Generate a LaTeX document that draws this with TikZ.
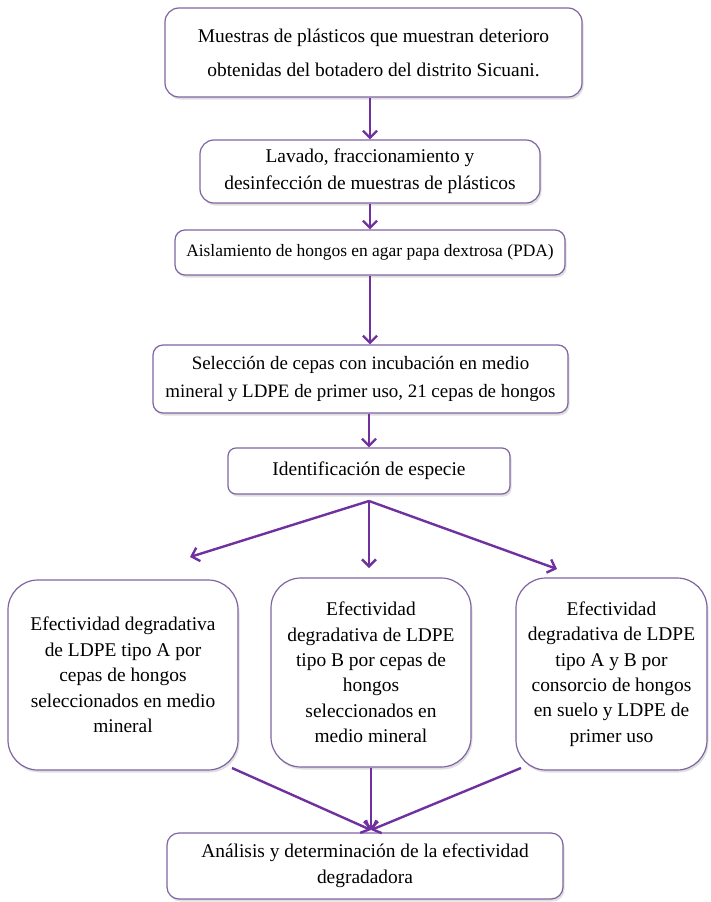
\documentclass[tikz,border=0pt]{standalone}
\usepackage{fontspec}
\setmainfont{Liberation Serif}
\usetikzlibrary{shadows,arrows.meta}
\definecolor{boxline}{HTML}{8064A2}
\definecolor{flowline}{HTML}{7030A0}
\tikzset{
  stepbox/.style={draw=boxline, line width=1.2bp, fill=white, rounded corners=14bp,
    align=center, inner sep=0pt, font=\fontsize{19.5}{34}\selectfont,
    drop shadow={opacity=0.25, shadow xshift=1.5bp, shadow yshift=-2.5bp}},
  bigbox/.style={stepbox, rounded corners=30bp, font=\fontsize{19.5}{25.5}\selectfont},
  flow/.style={draw=flowline, line width=2.4bp,
    -{Straight Barb[length=7bp, width=14bp, line width=2.4bp]}}
}
\begin{document}
\begin{tikzpicture}[x=1bp, y=-1bp]
\useasboundingbox (0,0) rectangle (711,902);
% steps
\node[stepbox, minimum width=417bp, minimum height=89bp] (muestras) at (373.5,52.5)
  {Muestras de plásticos que muestran deterioro\\obtenidas del botadero del distrito Sicuani.};
\node[stepbox, minimum width=340bp, minimum height=63bp, font=\fontsize{19.5}{27}\selectfont] (lavado) at (370,171.5)
  {Lavado, fraccionamiento y\\desinfección de muestras de plásticos};
\node[stepbox, minimum width=390bp, minimum height=45bp, rounded corners=10bp, font=\fontsize{17.5}{20}\selectfont] (aislamiento) at (370,252.5)
  {Aislamiento de hongos en agar papa dextrosa (PDA)};
\node[stepbox, minimum width=415bp, minimum height=68bp, rounded corners=10bp, font=\fontsize{19}{28}\selectfont] (seleccion) at (360.5,379)
  {Selección de cepas con incubación en medio\\mineral y LDPE de primer uso, 21 cepas de hongos};
\node[stepbox, minimum width=282bp, minimum height=46bp, rounded corners=8bp] (identif) at (369,471)
  {Identificación de especie};
% three tests
\node[bigbox, minimum width=230bp, minimum height=190bp] (tipoA) at (123,675)
  {Efectividad degradativa\\de LDPE tipo A por\\cepas de hongos\\seleccionados en medio\\mineral};
\node[bigbox, minimum width=200bp, minimum height=189bp] (tipoB) at (371,672.5)
  {Efectividad\\degradativa de LDPE\\tipo B por cepas de\\hongos\\seleccionados en\\medio mineral};
\node[bigbox, minimum width=191bp, minimum height=192bp] (tipoAB) at (611.5,674)
  {Efectividad\\degradativa de LDPE\\tipo A y B por\\consorcio de hongos\\en suelo y LDPE de\\primer uso};
\node[stepbox, minimum width=396bp, minimum height=66bp, rounded corners=12bp, font=\fontsize{19.5}{26}\selectfont] (analisis) at (365,866)
  {Análisis y determinación de la efectividad\\degradadora};
% connectors
\draw[flow] (lavado.north |- muestras.south) -- (lavado.north);
\draw[flow] (lavado.south) -- (aislamiento.north);
\draw[flow] (aislamiento.south) -- (aislamiento.south |- seleccion.north);
\draw[flow] (identif.south |- seleccion.south) -- (identif.north);
\coordinate (fork) at (369,501);
\coordinate (endA) at (190,557);
\coordinate (endB) at (369,568);
\coordinate (endAB) at (557,569);
\draw[flow] (fork) -- (endA);
\draw[flow] (fork) -- (endB);
\draw[flow] (fork) -- (endAB);
\coordinate (startA) at (232,768);
\coordinate (startAB) at (521,768);
\coordinate (join) at (371,830);
\draw[flow] (startA) -- (join);
\draw[flow] (tipoB.south) -- (join);
\draw[flow] (startAB) -- (join);
\end{tikzpicture}
\end{document}
